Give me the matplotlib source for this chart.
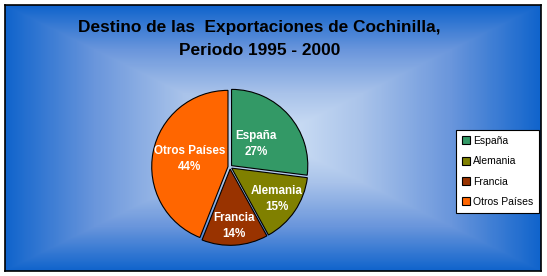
import numpy as np
import matplotlib
matplotlib.use('Agg')
import matplotlib.pyplot as plt
from matplotlib.colors import LinearSegmentedColormap

plt.rcParams['font.family'] = ['Liberation Sans', 'DejaVu Sans']

title = 'Destino de las  Exportaciones de Cochinilla,\nPeriodo 1995 - 2000'
paises = ['España', 'Alemania', 'Francia', 'Otros Países']
porcentajes = [27, 15, 14, 44]
colores = ['#339966', '#808000', '#993300', '#ff6600']

fig = plt.figure(figsize=(5.47, 2.76), dpi=100)

# background: rectangular gradient from the centre, inside black frame
bg = fig.add_axes([5 / 547, 5 / 276, 536 / 547, 266 / 276])
ny, nx = 266, 536
yy, xx = np.mgrid[0:ny, 0:nx]
dx = np.abs(xx / (nx - 1) - 0.5) / 0.5
dy = np.abs(yy / (ny - 1) - 0.5) / 0.5
d = np.maximum(dx, dy)
cmap = LinearSegmentedColormap.from_list('bg', ['#d4e4f7', '#a9c3ea', '#6a96dc', '#1064cc'])
bg.imshow(d, cmap=cmap, aspect='auto', extent=[0, 1, 0, 1], vmin=0, vmax=1)
bg.set_xticks([])
bg.set_yticks([])
for s in bg.spines.values():
    s.set_linewidth(1.2)
    s.set_color('black')

fig.text(0.474, 0.927, title, ha='center', va='top', fontsize=12.4, fontweight='bold',
         linespacing=1.62)

# pie
ax = fig.add_axes([(230 - 82) / 547, 1 - (167 + 82) / 276, 164 / 547, 164 / 276])
wedges, texts = ax.pie(porcentajes, colors=colores, startangle=90, counterclock=False,
                       explode=[0.025] * 4, radius=0.93,
                       wedgeprops=dict(edgecolor='black', linewidth=0.8))
labeldist = [0.42, 0.69, 0.72, 0.5]
for w, p, nombre, ld in zip(wedges, porcentajes, paises, labeldist):
    ang = np.deg2rad((w.theta1 + w.theta2) / 2)
    ax.text(ld * np.cos(ang), ld * np.sin(ang), f'{nombre}\n{p}%', ha='center', va='center',
            color='white', fontsize=8.4, fontweight='bold', linespacing=1.45)
ax.set_xlim(-1, 1)
ax.set_ylim(-1, 1)
ax.set_aspect('equal')
ax.axis('off')

# legend
leg = fig.legend(wedges, paises, loc='upper left', bbox_to_anchor=(456 / 547, 1 - 130 / 276),
                 fontsize=7.5, frameon=True, fancybox=False, edgecolor='black', framealpha=1,
                 handlelength=0.8, handleheight=0.8, handletextpad=0.3, labelspacing=1.0,
                 borderpad=0.55, borderaxespad=0)
leg.get_frame().set_linewidth(0.8)
leg.get_frame().set_facecolor('white')

fig.savefig('out.png', dpi=100)
